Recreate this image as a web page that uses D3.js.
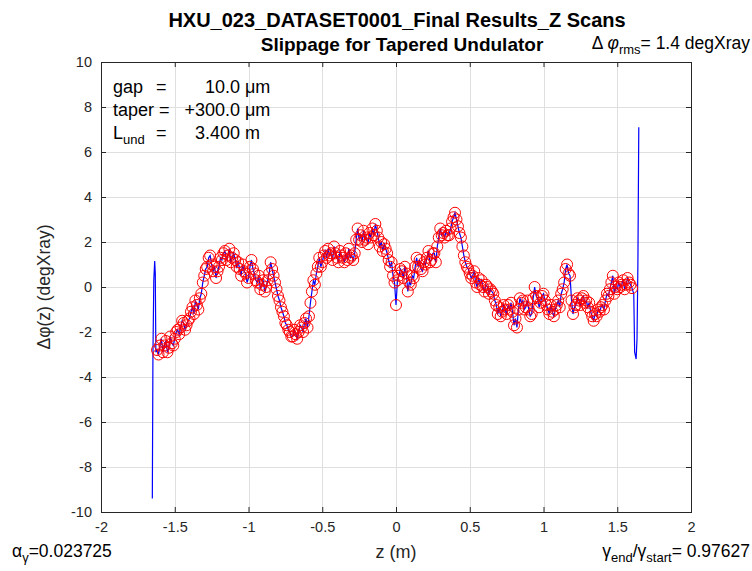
<!DOCTYPE html>
<html>
<head>
<meta charset="utf-8">
<script src="https://cdn.jsdelivr.net/npm/d3@7"></script>
<style>
  html, body { margin: 0; padding: 0; background: #ffffff; }
  svg { display: block; font-family: "Liberation Sans", Arial, Helvetica, sans-serif; }
</style>
</head>
<body>
<svg id="chart" width="752" height="571"></svg>
<script>
// Slippage phase along the undulator (z in m, phase in degXray)
const zCore = [
  -1.62, -1.61, -1.60, -1.59, -1.58, -1.57, -1.56, -1.55, -1.54, -1.53,
  -1.52, -1.51, -1.50, -1.49, -1.48, -1.47, -1.46, -1.45, -1.44, -1.43,
  -1.42, -1.41, -1.40, -1.39, -1.38, -1.37, -1.36, -1.35, -1.34, -1.33,
  -1.32, -1.31, -1.30, -1.29, -1.28, -1.27, -1.26, -1.25, -1.24, -1.23,
  -1.22, -1.21, -1.20, -1.19, -1.18, -1.17, -1.16, -1.15, -1.14, -1.13,
  -1.12, -1.11, -1.10, -1.09, -1.08, -1.07, -1.06, -1.05, -1.04, -1.03,
  -1.02, -1.01, -1.00, -0.99, -0.98, -0.97, -0.96, -0.95, -0.94, -0.93,
  -0.92, -0.91, -0.90, -0.89, -0.88, -0.87, -0.86, -0.85, -0.84, -0.83,
  -0.82, -0.81, -0.80, -0.79, -0.78, -0.77, -0.76, -0.75, -0.74, -0.73,
  -0.72, -0.71, -0.70, -0.69, -0.68, -0.67, -0.66, -0.65, -0.64, -0.63,
  -0.62, -0.61, -0.60, -0.59, -0.58, -0.57, -0.56, -0.55, -0.54, -0.53,
  -0.52, -0.51, -0.50, -0.49, -0.48, -0.47, -0.46, -0.45, -0.44, -0.43,
  -0.42, -0.41, -0.40, -0.39, -0.38, -0.37, -0.36, -0.35, -0.34, -0.33,
  -0.32, -0.31, -0.30, -0.29, -0.28, -0.27, -0.26, -0.25, -0.24, -0.23,
  -0.22, -0.21, -0.20, -0.19, -0.18, -0.17, -0.16, -0.15, -0.14, -0.13,
  -0.12, -0.11, -0.10, -0.09, -0.08, -0.07, -0.06, -0.05, -0.04, -0.03,
  -0.02, -0.01, 0.00, 0.01, 0.02, 0.03, 0.04, 0.05, 0.06, 0.07,
  0.08, 0.09, 0.10, 0.11, 0.12, 0.13, 0.14, 0.15, 0.16, 0.17,
  0.18, 0.19, 0.20, 0.21, 0.22, 0.23, 0.24, 0.25, 0.26, 0.27,
  0.28, 0.29, 0.30, 0.31, 0.32, 0.33, 0.34, 0.35, 0.36, 0.37,
  0.38, 0.39, 0.40, 0.41, 0.42, 0.43, 0.44, 0.45, 0.46, 0.47,
  0.48, 0.49, 0.50, 0.51, 0.52, 0.53, 0.54, 0.55, 0.56, 0.57,
  0.58, 0.59, 0.60, 0.61, 0.62, 0.63, 0.64, 0.65, 0.66, 0.67,
  0.68, 0.69, 0.70, 0.71, 0.72, 0.73, 0.74, 0.75, 0.76, 0.77,
  0.78, 0.79, 0.80, 0.81, 0.82, 0.83, 0.84, 0.85, 0.86, 0.87,
  0.88, 0.89, 0.90, 0.91, 0.92, 0.93, 0.94, 0.95, 0.96, 0.97,
  0.98, 0.99, 1.00, 1.01, 1.02, 1.03, 1.04, 1.05, 1.06, 1.07,
  1.08, 1.09, 1.10, 1.11, 1.12, 1.13, 1.14, 1.15, 1.16, 1.17,
  1.18, 1.19, 1.20, 1.21, 1.22, 1.23, 1.24, 1.25, 1.26, 1.27,
  1.28, 1.29, 1.30, 1.31, 1.32, 1.33, 1.34, 1.35, 1.36, 1.37,
  1.38, 1.39, 1.40, 1.41, 1.42, 1.43, 1.44, 1.45, 1.46, 1.47,
  1.48, 1.49, 1.50, 1.51, 1.52, 1.53, 1.54, 1.55, 1.56, 1.57,
  1.58, 1.59, 1.60
];
const phiCore = [
  -2.8, -3.0, -2.6, -2.3, -2.9, -2.6, -2.4, -2.9, -2.7, -2.2,
  -2.5, -2.6, -2.3, -2.0, -1.9, -2.1, -1.8, -1.5, -1.6, -1.9,
  -1.7, -1.5, -1.4, -1.1, -0.9, -1.2, -0.6, -0.8, -1.0, -0.5,
  -0.3, 0.2, 0.5, 0.8, 0.9, 1.3, 1.4, 1.0, 0.7, 0.9,
  0.4, 0.7, 0.9, 1.3, 1.2, 1.5, 1.6, 1.2, 1.4, 1.7,
  1.1, 1.3, 1.5, 1.2, 0.9, 1.1, 0.8, 0.5, 1.0, 0.7,
  0.6, 0.2, 0.4, 0.9, 1.2, 0.8, 0.6, 0.3, 0.2, 0.5,
  -0.1, 0.1, 0.3, -0.2, 0.0, 0.3, 0.6, 1.1, 0.8, 0.5,
  0.2, -0.1, -0.4, -0.6, -0.9, -1.1, -1.3, -1.6, -1.7, -1.9,
  -2.0, -2.2, -2.2, -1.9, -2.1, -2.3, -2.0, -1.7, -1.8, -2.0,
  -1.6, -1.4, -1.8, -1.3, -0.7, -0.2, 0.3, 0.1, 0.6, 0.9,
  1.3, 0.9, 1.1, 1.4, 1.6, 1.3, 1.7, 1.4, 1.5, 1.2,
  1.8, 1.5, 1.3, 1.1, 1.6, 1.4, 1.3, 1.1, 1.5, 1.2,
  1.7, 1.3, 1.4, 1.2, 1.5, 2.1, 2.6, 2.1, 2.3, 2.0,
  2.5, 2.1, 2.2, 1.9, 2.4, 2.2, 2.6, 2.3, 2.8, 2.5,
  2.2, 1.8, 2.0, 1.6, 1.9, 1.7, 1.5, 1.2, 0.9, 1.1,
  0.5, 0.2, -0.8, 0.3, 0.5, 0.8, 0.7, 0.4, 0.9, 0.6,
  -0.2, 0.2, 0.1, 0.5, 0.4, 0.9, 1.3, 0.9, 1.2, 0.8,
  0.7, 1.1, 1.0, 1.3, 1.6, 1.1, 1.2, 1.5, 1.5, 1.1,
  1.8, 2.2, 2.6, 2.3, 2.4, 2.2, 2.5, 2.3, 2.3, 2.6,
  2.9, 3.1, 3.3, 3.0, 2.7, 2.4, 2.2, 1.8, 1.4, 1.1,
  0.9, 0.8, 0.6, 0.4, 0.5, 0.7, 0.2, 0.0, 0.4, 0.1,
  0.3, 0.0, -0.2, 0.1, 0.0, -0.3, -0.1, -0.2, -0.3, -0.6,
  -0.8, -1.2, -0.9, -1.3, -1.1, -0.8, -1.0, -1.2, -0.8, -1.0,
  -0.7, -1.1, -1.7, -1.4, -1.8, -1.0, -0.5, -0.7, -0.6, -1.0,
  -0.9, -0.6, -1.0, -1.3, -1.2, -0.5, 0.0, -0.4, -0.5, -0.9,
  -0.7, -0.4, -0.3, -0.6, -0.8, -1.0, -1.2, -0.8, -1.1, -1.3,
  -1.0, -0.8, -0.6, -0.9, -0.3, -0.1, 0.2, 0.8, 1.0, 0.6,
  0.5, -0.6, -1.2, -0.9, -0.8, -0.5, -0.6, -0.8, -0.5, -0.4,
  -0.7, -0.6, -0.9, -0.7, -1.1, -1.3, -1.5, -1.2, -1.3, -1.0,
  -1.1, -0.9, -0.8, -1.0, -0.6, -0.3, -0.4, -0.1, 0.2, 0.5,
  -0.3, 0.0, -0.1, 0.2, 0.0, 0.1, 0.3, -0.1, 0.1, 0.4,
  0.2, 0.1, -0.05
];
// End-of-field transients (line only, no markers)
const zEntry   = [-1.652, -1.648, -1.642, -1.636, -1.632, -1.628];
const phiEntry = [-9.4, -3.1, 0.3, 1.15, 0.6, -2.9];
const zExit    = [1.612, 1.618, 1.628, 1.634, 1.640, 1.646];
const phiExit  = [-0.3, -2.9, -3.2, -2.3, 1.0, 7.1];

const xTicks = [-2, -1.5, -1, -0.5, 0, 0.5, 1, 1.5, 2];
const yTicks = [-10, -8, -6, -4, -2, 0, 2, 4, 6, 8, 10];

const svg = d3.select("#chart");
const plot = { left: 101, right: 691, top: 62, bottom: 512 };
const axisColor = "#262626";

const x = d3.scaleLinear().domain([-2, 2]).range([plot.left, plot.right]);
const y = d3.scaleLinear().domain([-10, 10]).range([plot.bottom, plot.top]);

// grid
const grid = svg.append("g").attr("stroke", "#dfdfdf").attr("stroke-width", 1);
grid.selectAll(".gx").data(xTicks.slice(1, -1)).join("line")
  .attr("x1", d => Math.round(x(d)) + 0.5).attr("x2", d => Math.round(x(d)) + 0.5)
  .attr("y1", plot.top).attr("y2", plot.bottom);
grid.selectAll(".gy").data(yTicks.slice(1, -1)).join("line")
  .attr("y1", d => Math.round(y(d)) + 0.5).attr("y2", d => Math.round(y(d)) + 0.5)
  .attr("x1", plot.left).attr("x2", plot.right);

// data
const lineData = [];
zEntry.forEach((z, i) => lineData.push([z, phiEntry[i]]));
zCore.forEach((z, i) => lineData.push([z, phiCore[i]]));
zExit.forEach((z, i) => lineData.push([z, phiExit[i]]));

const line = d3.line().x(d => x(d[0])).y(d => y(d[1]));
svg.append("path").datum(lineData)
  .attr("d", line).attr("fill", "none")
  .attr("stroke", "#0000ff").attr("stroke-width", 1.2);

svg.append("g").selectAll("circle").data(zCore.map((z, i) => [z, phiCore[i]])).join("circle")
  .attr("cx", d => x(d[0])).attr("cy", d => y(d[1])).attr("r", 5.5)
  .attr("fill", "none").attr("stroke", "#ff0000").attr("stroke-width", 1);

// axes with inward ticks on all four sides
const tickLen = 5;
const fmt = d => String(d);
const axB = d3.axisBottom(x).tickValues(xTicks).tickSizeInner(-tickLen).tickSizeOuter(0).tickPadding(10).tickFormat(fmt);
const axT = d3.axisTop(x).tickValues(xTicks).tickSizeInner(-tickLen).tickSizeOuter(0).tickFormat("");
const axL = d3.axisLeft(y).tickValues(yTicks).tickSizeInner(-tickLen).tickSizeOuter(0).tickPadding(9).tickFormat(fmt);
const axR = d3.axisRight(y).tickValues(yTicks).tickSizeInner(-tickLen).tickSizeOuter(0).tickFormat("");

function styleAxis(g) {
  g.select(".domain").remove();
  g.selectAll("line").attr("stroke", axisColor);
  g.selectAll("text").attr("fill", axisColor).attr("font-size", 14.5)
    .attr("font-family", "Liberation Sans, Arial, sans-serif");
}
svg.append("g").attr("transform", `translate(0,${plot.bottom})`).call(axB).call(styleAxis);
svg.append("g").attr("transform", `translate(0,${plot.top})`).call(axT).call(styleAxis);
svg.append("g").attr("transform", `translate(${plot.left},0)`).call(axL).call(styleAxis);
svg.append("g").attr("transform", `translate(${plot.right},0)`).call(axR).call(styleAxis);

svg.append("rect")
  .attr("x", plot.left + 0.5).attr("y", plot.top + 0.5)
  .attr("width", plot.right - plot.left).attr("height", plot.bottom - plot.top)
  .attr("fill", "none").attr("stroke", axisColor).attr("stroke-width", 1);

// titles
const cx = (plot.left + plot.right) / 2;
svg.append("text").attr("x", cx + 1).attr("y", 27).attr("text-anchor", "middle")
  .attr("font-size", 20).attr("font-weight", "bold").attr("fill", "#000")
  .text("HXU_023_DATASET0001_Final Results_Z Scans");
svg.append("text").attr("x", cx + 6).attr("y", 51).attr("text-anchor", "middle")
  .attr("font-size", 19).attr("font-weight", "bold").attr("fill", "#000")
  .text("Slippage for Tapered Undulator");

const rms = svg.append("text").attr("x", 750).attr("y", 49).attr("text-anchor", "end")
  .attr("font-size", 17.5).attr("fill", "#000").attr("xml:space", "preserve");
rms.append("tspan").text("Δ ");
rms.append("tspan").attr("font-style", "italic").text("φ");
rms.append("tspan").attr("font-size", 13).attr("dy", 5).text("rms");
rms.append("tspan").attr("dy", -5).text("= 1.4 degXray");

// parameter box
const info = svg.append("g").attr("font-size", 18).attr("fill", "#000");
const rows = [
  { y: 93, value: "10.0", unit: "μm" },
  { y: 116, value: "+300.0", unit: "μm" },
  { y: 139, value: "3.400", unit: "m" }
];
info.append("text").attr("x", 113).attr("y", rows[0].y).text("gap");
info.append("text").attr("x", 156).attr("y", rows[0].y).text("=");
info.append("text").attr("x", 113).attr("y", rows[1].y).text("taper =");
const lund = info.append("text").attr("x", 113).attr("y", rows[2].y);
lund.append("tspan").text("L");
lund.append("tspan").attr("font-size", 13).attr("dy", 5).text("und");
info.append("text").attr("x", 156).attr("y", rows[2].y).text("=");
rows.forEach(r => {
  info.append("text").attr("x", 240).attr("y", r.y).attr("text-anchor", "end").text(r.value);
  info.append("text").attr("x", 245).attr("y", r.y).text(r.unit);
});

// axis labels
svg.append("text").attr("transform", `translate(50,${y(0)}) rotate(-90)`)
  .attr("text-anchor", "middle").attr("font-size", 17.5).attr("fill", axisColor)
  .text("Δφ(z) (degXray)");
svg.append("text").attr("x", x(0)).attr("y", 558).attr("text-anchor", "middle")
  .attr("font-size", 18).attr("fill", axisColor).text("z (m)");

const alpha = svg.append("text").attr("x", 12).attr("y", 557).attr("font-size", 17.5).attr("fill", "#000");
alpha.append("tspan").text("α");
alpha.append("tspan").attr("font-size", 13).attr("dy", 5).text("γ");
alpha.append("tspan").attr("dy", -5).text("=0.023725");

const gam = svg.append("text").attr("x", 750).attr("y", 557).attr("text-anchor", "end")
  .attr("font-size", 17.5).attr("fill", "#000");
gam.append("tspan").text("γ");
gam.append("tspan").attr("font-size", 13).attr("dy", 5).text("end");
gam.append("tspan").attr("dy", -5).text("/γ");
gam.append("tspan").attr("font-size", 13).attr("dy", 5).text("start");
gam.append("tspan").attr("dy", -5).text("= 0.97627");
</script>
</body>
</html>
